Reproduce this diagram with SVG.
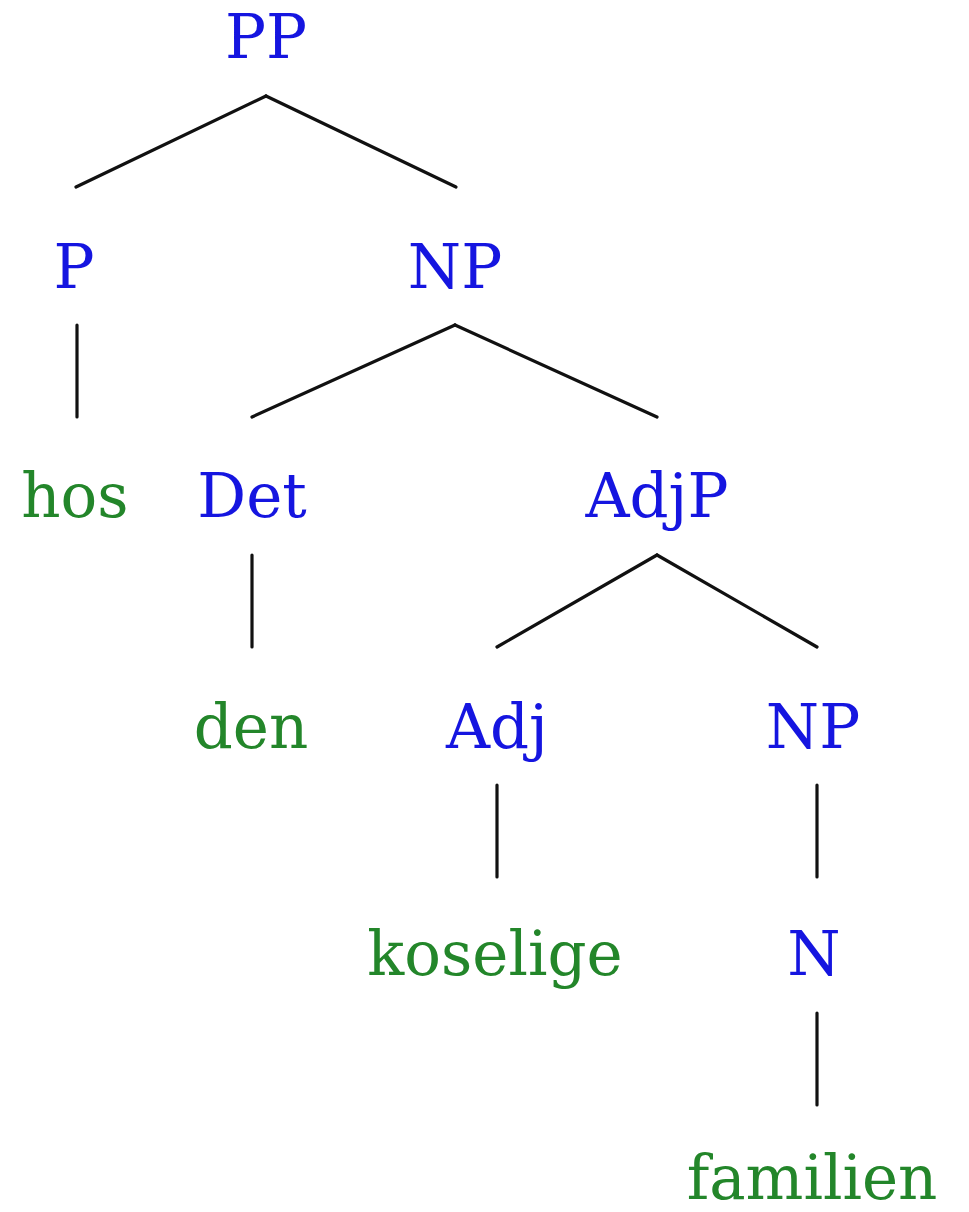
<svg xmlns="http://www.w3.org/2000/svg" width="969" height="1212" viewBox="0 0 969 1212">
<style>
text{font-family:"DejaVu Serif","Liberation Serif",serif;font-size:61px;text-anchor:middle}
.c{fill:#1515e0}
.w{fill:#23862a}
line{stroke:#111;stroke-width:3.2;stroke-linecap:round}
</style>
<rect width="969" height="1212" fill="#fff"/>
<g id="connectors">
<line x1="266" y1="96" x2="76" y2="187"/>
<line x1="266" y1="96" x2="456" y2="187"/>
<line x1="77" y1="325" x2="77" y2="417"/>
<line x1="455" y1="325" x2="252" y2="417"/>
<line x1="455" y1="325" x2="657" y2="417"/>
<line x1="252" y1="555" x2="252" y2="647"/>
<line x1="657" y1="555" x2="497" y2="647"/>
<line x1="657" y1="555" x2="817" y2="647"/>
<line x1="497" y1="785" x2="497" y2="877"/>
<line x1="817" y1="785" x2="817" y2="877"/>
<line x1="817" y1="1013" x2="817" y2="1105"/>
</g>
<g id="n-PP"><text class="c" x="266" y="58">PP</text></g>
<g id="n-P"><text class="c" x="74" y="288">P</text></g>
<g id="n-NP1"><text class="c" x="455" y="288">NP</text></g>
<g id="n-hos"><text class="w" x="75" y="517">hos</text></g>
<g id="n-Det"><text class="c" x="252" y="517">Det</text></g>
<g id="n-AdjP"><text class="c" x="657" y="517">AdjP</text></g>
<g id="n-den"><text class="w" x="251" y="748">den</text></g>
<g id="n-Adj"><text class="c" x="497" y="748">Adj</text></g>
<g id="n-NP2"><text class="c" x="813" y="748">NP</text></g>
<g id="n-koselige"><text class="w" x="495" y="975">koselige</text></g>
<g id="n-N"><text class="c" x="814" y="975">N</text></g>
<g id="n-familien"><text class="w" x="812" y="1199">familien</text></g>
</svg>
